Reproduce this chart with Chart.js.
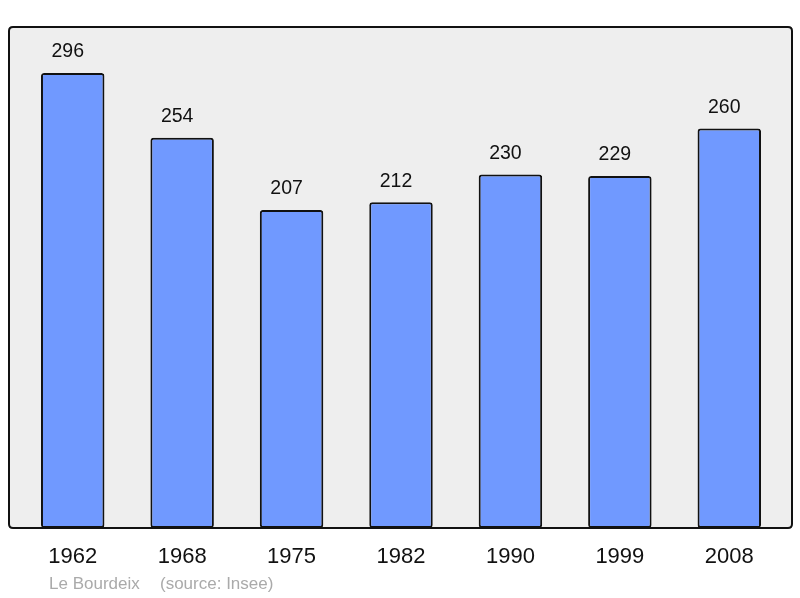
<!DOCTYPE html>
<html>
<head>
<meta charset="utf-8">
<script src="https://cdn.jsdelivr.net/npm/chart.js@4"></script>
<style>
  html, body { margin: 0; padding: 0; background: #ffffff; }
  #wrap { width: 800px; height: 598px; position: relative; }
</style>
</head>
<body>
<div id="wrap"><canvas id="popChart" width="800" height="598"></canvas></div>
<script>
const years = ["1962", "1968", "1975", "1982", "1990", "1999", "2008"];
const population = [296, 254, 207, 212, 230, 229, 260];
const footerName = "Le Bourdeix";
const footerSource = "(source: Insee)";

function roundRect(ctx, x, y, w, h, r) {
  ctx.beginPath();
  ctx.moveTo(x + r, y);
  ctx.lineTo(x + w - r, y);
  ctx.quadraticCurveTo(x + w, y, x + w, y + r);
  ctx.lineTo(x + w, y + h - r);
  ctx.quadraticCurveTo(x + w, y + h, x + w - r, y + h);
  ctx.lineTo(x + r, y + h);
  ctx.quadraticCurveTo(x, y + h, x, y + h - r);
  ctx.lineTo(x, y + r);
  ctx.quadraticCurveTo(x, y, x + r, y);
  ctx.closePath();
}

const framePlugin = {
  id: "frame",
  beforeDatasetsDraw(chart) {
    const ctx = chart.ctx;
    ctx.save();
    roundRect(ctx, 9, 27, 783, 501, 4);
    ctx.fillStyle = "#eeeeee";
    ctx.fill();
    ctx.restore();
  },
  afterDatasetsDraw(chart) {
    const ctx = chart.ctx;
    ctx.save();
    roundRect(ctx, 9, 27, 783, 501, 4);
    ctx.lineWidth = 2;
    ctx.strokeStyle = "#111111";
    ctx.stroke();

    // value labels above each bar
    const meta = chart.getDatasetMeta(0);
    ctx.fillStyle = "#111111";
    ctx.font = "19.5px 'Liberation Sans', Arial, sans-serif";
    ctx.textAlign = "center";
    ctx.textBaseline = "middle";
    meta.data.forEach(function (bar, i) {
      ctx.fillText(String(population[i]), bar.x - 5, bar.y - 21);
    });

    // footer
    ctx.fillStyle = "#aaaaaa";
    ctx.font = "17px 'Liberation Sans', Arial, sans-serif";
    ctx.textAlign = "left";
    ctx.fillText(footerName, 49, 584);
    ctx.fillText(footerSource, 160, 584);
    ctx.restore();
  }
};

new Chart(document.getElementById("popChart"), {
  type: "bar",
  data: {
    labels: years,
    datasets: [{
      data: population,
      backgroundColor: "#7099ff",
      borderColor: "#111111",
      borderWidth: 2,
      borderRadius: 3,
      borderSkipped: false,
      categoryPercentage: 1,
      barPercentage: 0.58
    }]
  },
  options: {
    responsive: false,
    animation: false,
    layout: { padding: { left: 18, right: 16, top: 27, bottom: 0 } },
    plugins: { legend: { display: false }, tooltip: { enabled: false } },
    scales: {
      y: { display: false, min: 0, max: 326 },
      x: {
        grid: { display: false, drawTicks: false },
        border: { display: false },
        ticks: {
          color: "#111111",
          padding: 16,
          font: { family: "'Liberation Sans', Arial, sans-serif", size: 22 }
        },
        afterFit: function (scale) { scale.height = 70; }
      }
    }
  },
  plugins: [framePlugin]
});
</script>
</body>
</html>
